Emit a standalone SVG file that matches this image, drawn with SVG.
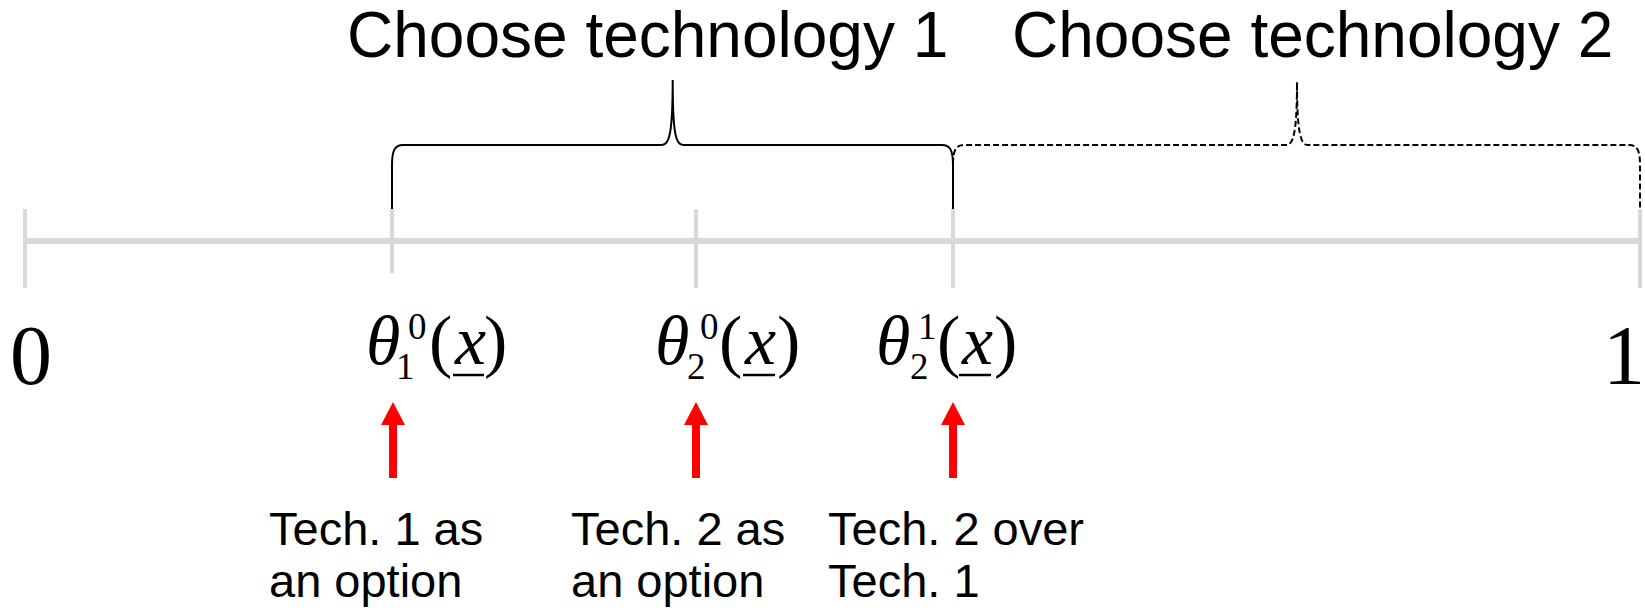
<svg xmlns="http://www.w3.org/2000/svg" width="1645" height="612" viewBox="0 0 1645 612">
<defs>
<style>
.axis{stroke:#d9d9d9;stroke-width:6;fill:none}
.tick{stroke:#d9d9d9;stroke-width:4;fill:none}
.brace{stroke:#000;stroke-width:2;fill:none}
.dash{stroke-dasharray:6,3}
.title{font-family:"Liberation Sans",Arial,sans-serif;font-size:64px;fill:#000}
.lbl{font-family:"Liberation Sans",Arial,sans-serif;font-size:47px;fill:#000}
.num{font-family:"Liberation Serif","Times New Roman",serif;font-size:84px;fill:#000}
.m{font-family:"Liberation Serif","Times New Roman",serif;font-size:70px;fill:#000}
.s{font-family:"Liberation Serif","Times New Roman",serif;font-size:37px;fill:#000}
.it{font-style:italic}
.ul{stroke:#000;stroke-width:2.5}
.arr{stroke:#ff0000;stroke-width:8;fill:none}
</style>
<marker id="ah" viewBox="0 0 23 24" refX="0" refY="12" markerWidth="23" markerHeight="24" markerUnits="userSpaceOnUse" orient="auto">
<path d="M0,0 L23,12 L0,24 z" fill="#ff0000"/>
</marker>
</defs>

<g id="axis">
<line class="axis" x1="25" y1="241" x2="1640" y2="241"/>
<line class="tick" x1="25" y1="209" x2="25" y2="288"/>
<line class="tick" x1="392" y1="209" x2="392" y2="273"/>
<line class="tick" x1="696" y1="209" x2="696" y2="288"/>
<line class="tick" x1="953" y1="209" x2="953" y2="288"/>
<line class="tick" x1="1640" y1="209" x2="1640" y2="288"/>
</g>

<g id="connectors">
<path class="brace" d="M392,209 L392,165 C392,150 395,145 403,145 L662,145 C669,145 672.7,135 672.7,80 C672.7,135 676,145 683,145 L942,145 C950,145 953,150 953,165 L953,209"/>
<path class="brace dash" d="M953,209 L953,165 C953,150 956,145 964,145 L1286,145 C1293,145 1297,135 1297,82 C1297,135 1301,145 1308,145 L1629,145 C1637,145 1640,150 1640,165 L1640,209"/>
<line class="arr" x1="393" y1="478" x2="393" y2="425" marker-end="url(#ah)"/>
<line class="arr" x1="696" y1="478" x2="696" y2="425" marker-end="url(#ah)"/>
<line class="arr" x1="953" y1="478" x2="953" y2="425" marker-end="url(#ah)"/>
</g>

<g id="title1"><text class="title" x="347" y="57">Choose technology 1</text></g>
<g id="title2"><text class="title" x="1012" y="57">Choose technology 2</text></g>

<g id="zero"><text class="num" x="10" y="384">0</text></g>
<g id="one"><text class="num" x="1645" y="384" text-anchor="end">1</text></g>

<g id="theta10">
<text class="m it" x="366" y="364">θ</text>
<text class="s" x="396" y="379">1</text>
<text class="s" x="408" y="339">0</text>
<text class="m" x="429" y="364">(</text>
<text class="m it" x="455" y="364">x</text>
<line class="ul" x1="453" y1="375" x2="484" y2="375"/>
<text class="m" x="484" y="364">)</text>
</g>

<g id="theta20">
<text class="m it" x="655" y="364">θ</text>
<text class="s" x="687" y="379">2</text>
<text class="s" x="700" y="339">0</text>
<text class="m" x="719" y="364">(</text>
<text class="m it" x="745" y="364">x</text>
<line class="ul" x1="743" y1="375" x2="775" y2="375"/>
<text class="m" x="777" y="364">)</text>
</g>

<g id="theta21">
<text class="m it" x="876" y="364">θ</text>
<text class="s" x="910" y="379">2</text>
<text class="s" x="918" y="339">1</text>
<text class="m" x="937" y="364">(</text>
<text class="m it" x="962" y="364">x</text>
<line class="ul" x1="959" y1="375" x2="991" y2="375"/>
<text class="m" x="994" y="364">)</text>
</g>

<g id="label1"><text class="lbl" x="269" y="545">Tech. 1 as</text><text class="lbl" x="269" y="597">an option</text></g>
<g id="label2"><text class="lbl" x="571" y="545">Tech. 2 as</text><text class="lbl" x="571" y="597">an option</text></g>
<g id="label3"><text class="lbl" x="828" y="545">Tech. 2 over</text><text class="lbl" x="828" y="597">Tech. 1</text></g>
</svg>
